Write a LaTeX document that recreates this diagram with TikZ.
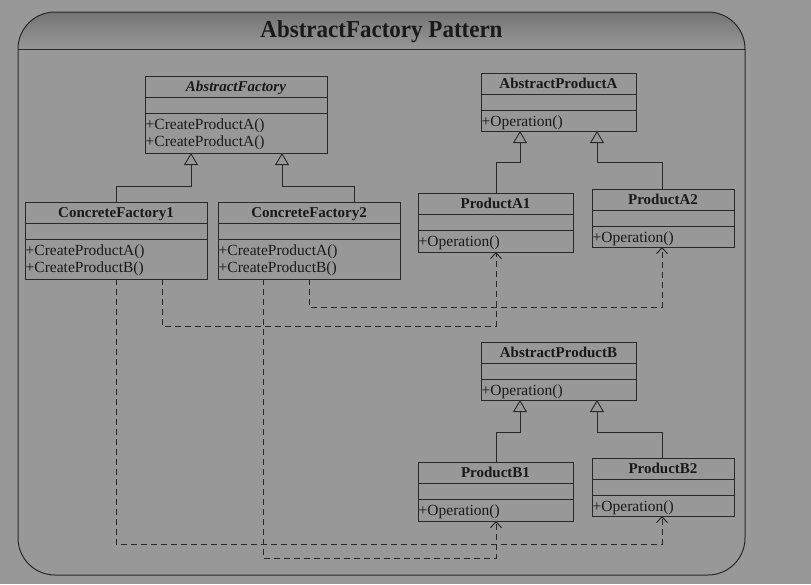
\documentclass[tikz,border=0pt]{standalone}
\usepackage{fontspec}
\setmainfont{Liberation Serif}
\usetikzlibrary{arrows.meta}

\definecolor{bggray}{RGB}{152,152,152}
\definecolor{bandgray}{RGB}{116,116,116}
\definecolor{ink}{RGB}{40,40,40}

\tikzset{
	classbox/.style={draw=ink, line width=0.9pt, inner sep=0pt, outer sep=0pt},
	nametext/.style={font=\fontsize{15}{18}\selectfont\bfseries, text=black!90, inner sep=0pt, anchor=base},
	optext/.style={font=\fontsize{15.5}{17}\selectfont, text=black!90, inner sep=0pt, align=left, anchor=north west},
	gen/.style={draw=ink, line width=0.9pt, -{Triangle[open, length=12pt, width=14pt, fill=bggray]}},
	dep/.style={draw=ink, line width=1pt, dash pattern=on 6pt off 4pt, -{Straight Barb[length=6pt, width=11pt]}}
}

\begin{document}
\begin{tikzpicture}[x=1pt, y=-1pt]
		{
			\useasboundingbox (0,0) rectangle (811,584);
			\fill[bggray] (0,0) rectangle (811,584);
			\begin{scope}
				\clip[rounded corners=37pt] (18,300) -- (18,12) -- (745,12) -- (745,575) -- (18,575) -- cycle;
				\shade[top color=bandgray, bottom color=bggray] (18,12) rectangle (745,49);
			\end{scope}
			\draw[ink, line width=1pt, rounded corners=37pt] (18,300) -- (18,12) -- (745,12) -- (745,575) -- (18,575) -- cycle;
			\draw[ink, line width=1pt] (18,49) -- (745,49);
			\node[font=\fontsize{23}{26}\selectfont\bfseries, text=black!90, anchor=base, yscale=1.06] (title) at (381.5,37.5) {AbstractFactory Pattern};

			\foreach \nm/\bx/\by/\bw/\bh/\ttl/\ops in {
				af/145/76/182/77/{\textit{AbstractFactory}}/{+CreateProductA()\\+CreateProductA()},
				cfa/25/202/182/77/{ConcreteFactory1}/{+CreateProductA()\\+CreateProductB()},
				cfb/218/202/182/77/{ConcreteFactory2}/{+CreateProductA()\\+CreateProductB()},
				apa/481/73/155/58/{AbstractProductA}/{+Operation()},
				pa1/418/193/155/59/{ProductA1}/{+Operation()},
				pa2/592/189/142/58/{ProductA2}/{+Operation()},
				apb/481/342/155/58/{AbstractProductB}/{+Operation()},
				pb1/418/462/155/59/{ProductB1}/{+Operation()},
				pb2/592/458/142/58/{ProductB2}/{+Operation()}
			}
			{
				\node[classbox, minimum width=\bw, minimum height=\bh, anchor=north west] (\nm) at (\bx,\by) {};
				\draw[ink, line width=0.9pt] (\nm.north west) ++(0,21) -- ++(\bw,0);
				\draw[ink, line width=0.9pt] (\nm.north west) ++(0,37) -- ++(\bw,0);
				\node[nametext] (\nm-name) at (\bx+\bw/2,\by+15.5) {\ttl};
				\node[optext] (\nm-ops) at (\bx+0.5,\by+43) {\ops};
			}

			\draw[gen] ([xshift=91pt]cfa.north west) -- ++(0,-16) -| ([xshift=46pt]af.south west);
			\draw[gen] ([xshift=136pt]cfb.north west) -- ++(0,-16) -| ([xshift=137pt]af.south west);
			\draw[gen] ([xshift=78pt]pa1.north west) -- ++(0,-31) -| ([xshift=39pt]apa.south west);
			\draw[gen] ([xshift=70pt]pa2.north west) -- ++(0,-27) -| ([xshift=116pt]apa.south west);
			\draw[gen] ([xshift=78pt]pb1.north west) -- ++(0,-30) -| ([xshift=39pt]apb.south west);
			\draw[gen] ([xshift=70pt]pb2.north west) -- ++(0,-26) -| ([xshift=116pt]apb.south west);

			\draw[dep] ([xshift=137pt]cfa.south west) -- ++(0,47) -| ([xshift=78pt]pa1.south west);
			\draw[dep] ([xshift=91pt]cfa.south west) -- ++(0,265) -| ([xshift=70pt]pb2.south west);
			\draw[dep] ([xshift=45pt]cfb.south west) -- ++(0,279) -| ([xshift=78pt]pb1.south west);
			\draw[dep] ([xshift=91pt]cfb.south west) -- ++(0,28) -| ([xshift=70pt]pa2.south west);
		}
	\end{tikzpicture}
\end{document}
